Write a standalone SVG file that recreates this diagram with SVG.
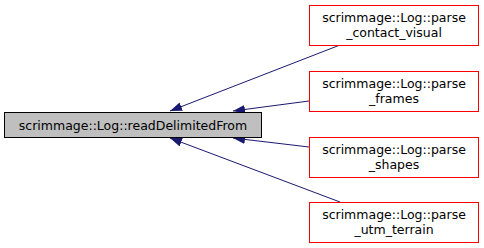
<svg xmlns="http://www.w3.org/2000/svg" width="484" height="248" viewBox="0 0 484 248">
  <style>
    .node rect { stroke-width: 1; }
    .main rect { fill: #bfbfbf; stroke: #000000; }
    .caller rect { fill: #ffffff; stroke: #ff0000; }
    text { font-family: "DejaVu Sans", sans-serif; font-size: 12.5px; fill: #000000; text-anchor: middle; }
    .edge { stroke: #191970; stroke-width: 1; fill: none; marker-end: url(#arrow); }
  </style>
  <defs>
    <marker id="arrow" viewBox="0 0 12 9" refX="12" refY="4.5" markerWidth="12" markerHeight="9" markerUnits="userSpaceOnUse" orient="auto">
      <path d="M0,0 L12,4.5 L0,9 Z" fill="#191970"/>
    </marker>
  </defs>
  <rect width="484" height="248" fill="#ffffff"/>

  <g id="edges">
    <path class="edge" d="M340,45 L170,111"/>
    <path class="edge" d="M309,101 L233,111"/>
    <path class="edge" d="M309,147 L233,138"/>
    <path class="edge" d="M340,202 L170,138"/>
  </g>

  <g id="readDelimitedFrom" class="node main">
    <rect x="4.5" y="112.5" width="257" height="25"/>
    <text x="133" y="129.5">scrimmage::Log::readDelimitedFrom</text>
  </g>

  <g id="parse_contact_visual" class="node caller">
    <rect x="309.5" y="5.5" width="169" height="40"/>
    <text x="394" y="22">scrimmage::Log::parse</text>
    <text x="394" y="37">_contact_visual</text>
  </g>

  <g id="parse_frames" class="node caller">
    <rect x="309.5" y="71.5" width="169" height="40"/>
    <text x="394" y="88">scrimmage::Log::parse</text>
    <text x="394" y="103">_frames</text>
  </g>

  <g id="parse_shapes" class="node caller">
    <rect x="309.5" y="137.5" width="169" height="40"/>
    <text x="394" y="154">scrimmage::Log::parse</text>
    <text x="394" y="169">_shapes</text>
  </g>

  <g id="parse_utm_terrain" class="node caller">
    <rect x="309.5" y="202.5" width="169" height="40"/>
    <text x="394" y="219">scrimmage::Log::parse</text>
    <text x="394" y="234">_utm_terrain</text>
  </g>
</svg>
